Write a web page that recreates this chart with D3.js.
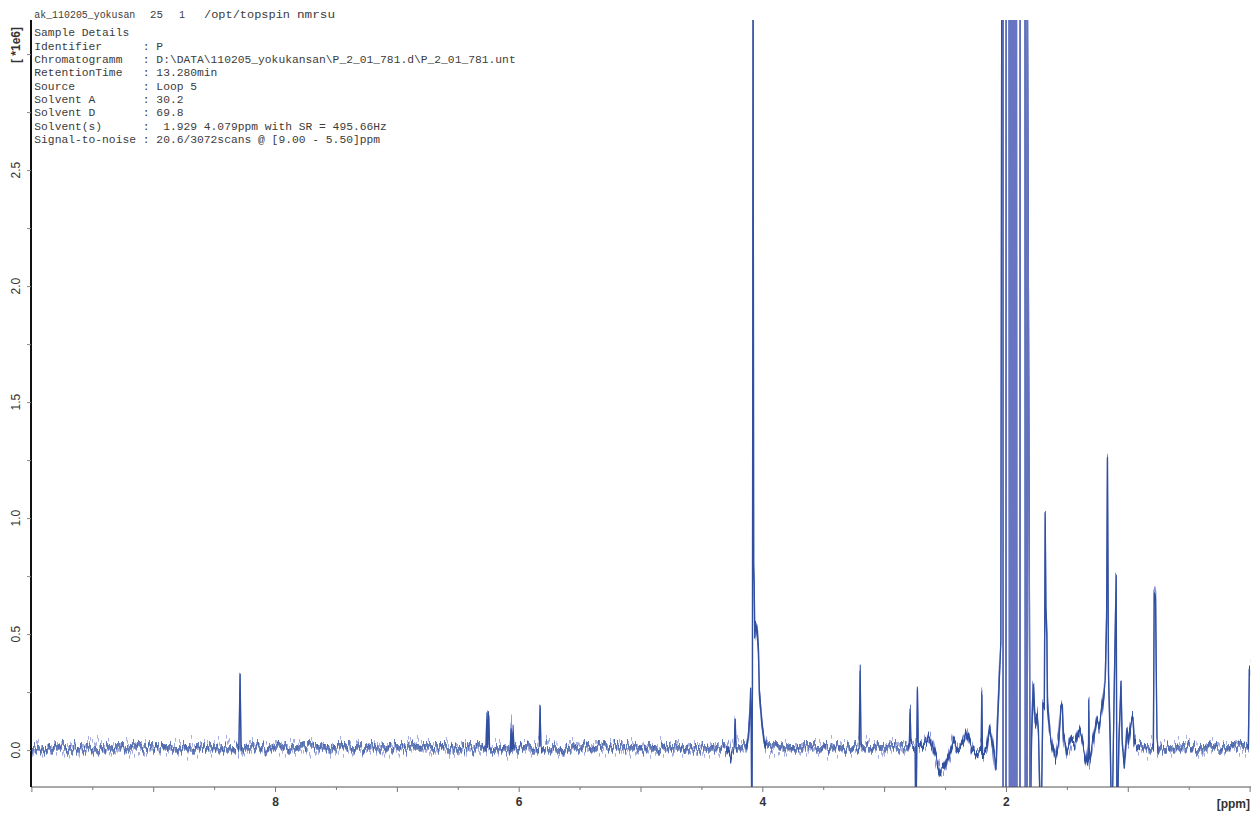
<!DOCTYPE html>
<html>
<head>
<meta charset="utf-8">
<script src="https://cdn.jsdelivr.net/npm/d3@7"></script>
<style>
  html, body { margin: 0; padding: 0; background: #ffffff; }
  svg { display: block; }
</style>
</head>
<body>
<svg id="chart" width="1251" height="813"></svg>
<script>
// 1H NMR trace vertices: [chemical shift (ppm), intensity (x1e6)], low field to high field.
// Values of 3.6 / -0.4 run off the plotted range and are clipped at the frame.
const lowField = [
  [10.000, 0.01],
  [8.297, 0.01], [8.287, 0.323], [8.279, 0.01],
  [6.268, 0.01], [6.260, 0.160], [6.254, 0.02], [6.246, 0.140], [6.239, 0.01],
  [6.070, 0.01], [6.062, 0.100], [6.056, 0.02], [6.047, 0.095], [6.040, 0.01],
  [5.832, 0.01], [5.824, 0.170], [5.817, 0.01],
  [4.300, 0.01], [4.262, -0.025], [4.250, 0.01],
  [4.231, 0.01], [4.223, 0.120], [4.216, 0.01]
];
const waterRegion = [
  [4.130, 0.01], [4.117, 0.05], [4.104, 0.13], [4.096, 0.245], [4.091, 0.12],
  [4.086, -0.40], [4.081, 0.30], [4.076, 3.60], [4.071, 0.80], [4.067, 0.724],
  [4.062, 0.50], [4.055, 0.55], [4.046, 0.53], [4.040, 0.50], [4.032, 0.43],
  [4.024, 0.245], [4.004, 0.116], [3.985, 0.04], [3.970, 0.01]
];
const midField = [
  [3.205, 0.01], [3.197, 0.336], [3.190, 0.01],
  [2.800, 0.01], [2.793, 0.02], [2.787, 0.164], [2.781, 0.03], [2.745, 0.02],
  [2.740, -0.40], [2.727, 0.247], [2.720, 0.03], [2.690, 0.02], [2.636, 0.056],
  [2.595, 0.00], [2.540, -0.093], [2.513, -0.086], [2.472, -0.03], [2.430, 0.043],
  [2.402, 0.014], [2.360, 0.03], [2.319, 0.079], [2.278, 0.014], [2.238, -0.007],
  [2.203, 0.00], [2.198, 0.247], [2.192, -0.01], [2.160, 0.00], [2.135, 0.095],
  [2.116, 0.043], [2.097, -0.03], [2.081, -0.079], [2.070, 0.116], [2.054, 0.33],
  [2.042, 0.47], [2.034, 3.60]
];
const solventRegion = [
  [2.024, 3.60], [2.023, -0.40], [2.000, -0.40], [1.998, 3.60],
  [1.974, 3.60], [1.971, -0.40], [1.968, -0.40], [1.965, 3.60], [1.962, 3.60],
  [1.959, -0.40], [1.956, -0.40], [1.953, 3.60], [1.950, 3.60], [1.947, -0.40],
  [1.944, -0.40], [1.941, 3.60], [1.938, 3.60], [1.935, -0.40], [1.932, -0.40],
  [1.929, 3.60], [1.926, 3.60], [1.923, -0.40], [1.920, -0.40], [1.917, 3.60],
  [1.914, 3.60], [1.911, -0.40], [1.908, -0.40],
  [1.885, -0.40], [1.883, 3.60], [1.843, 3.60], [1.841, -0.40],
  [1.828, -0.40], [1.826, 3.60], [1.801, -0.40]
];
const highField = [
  [1.790, 0.05], [1.776, 0.289], [1.760, 0.116], [1.747, 0.16], [1.733, 0.073],
  [1.713, -0.40], [1.697, 0.20], [1.685, 0.20], [1.678, 1.02], [1.672, 0.62],
  [1.664, 0.487], [1.659, 0.185], [1.643, 0.073], [1.623, 0.013], [1.596, -0.035],
  [1.569, 0.03], [1.549, 0.185], [1.538, 0.185], [1.528, 0.043], [1.500, -0.013],
  [1.459, 0.043], [1.432, 0.03], [1.405, 0.086], [1.377, 0.043], [1.350, -0.03],
  [1.331, -0.065], [1.322, 0.00], [1.320, 0.207], [1.316, -0.043], [1.283, 0.043],
  [1.254, 0.129], [1.233, 0.10], [1.206, 0.20], [1.186, 0.30], [1.174, 0.56],
  [1.167, 1.257], [1.158, 0.33], [1.144, 0.043], [1.131, -0.40], [1.118, 0.043],
  [1.095, 0.754], [1.089, -0.40], [1.073, 0.043], [1.056, 0.289], [1.046, 0.043],
  [1.029, -0.052], [1.007, 0.086], [0.994, 0.03], [0.974, 0.116], [0.958, 0.142],
  [0.947, 0.03], [0.930, 0.02], [0.900, 0.01],
  [0.790, 0.01], [0.783, 0.682], [0.772, 0.66], [0.767, 0.38], [0.760, 0.05], [0.752, 0.01],
  [0.010, 0.01], [0.002, 0.345], [-0.005, 0.345]
];

// Axis ticks and labels
const ppmTicks = d3.range(0, 21).map(i => 10 - i * 0.5);
const ppmLabels = [8, 6, 4, 2];
const intensityTicks = d3.range(0, 13).map(i => i * 0.25);
const intensityLabels = [0, 0.5, 1.0, 1.5, 2.0, 2.5];

// Acquisition header
const titleParts = [
  { text: "ak_110205_yokusan", x: 34.3, w: 101 },
  { text: "25", x: 150, w: 13 },
  { text: "1", x: 179, w: 6 },
  { text: "/opt/topspin", x: 204, w: 86 },
  { text: "nmrsu", x: 297, w: 38 }
];
const detailKeys = ["Sample Details", "Identifier", "Chromatogramm", "RetentionTime", "Source",
  "Solvent A", "Solvent D", "Solvent(s)", "Signal-to-noise"];
const detailValues = ["", ": P", ": D:\\DATA\\110205_yokukansan\\P_2_01_781.d\\P_2_01_781.unt",
  ": 13.280min", ": Loop 5", ": 30.2", ": 69.8", ":  1.929 4.079ppm with SR = 495.66Hz",
  ": 20.6/3072scans @ [9.00 - 5.50]ppm"];

const svg = d3.select("#chart");
const W = 1251, H = 813;
const plot = { left: 31.4, right: 1249.6, top: 20, bottom: 787 };

const x = d3.scaleLinear().domain([10, 0]).range([plot.left, plot.right]);
const y = d3.scaleLinear().domain([-0.159, 3.147]).range([plot.bottom, plot.top]);

const defs = svg.append("defs");
defs.append("clipPath").attr("id", "plotClip")
  .append("rect").attr("x", 31).attr("y", plot.top).attr("width", W - 31).attr("height", plot.bottom - plot.top);

// Acquisition-noise texture: columns are shifted vertically, then smeared vertically
function noiseFilter(id, seed, freq, amount, smear) {
  const f = defs.append("filter").attr("id", id)
    .attr("filterUnits", "userSpaceOnUse")
    .attr("x", 0).attr("y", 0).attr("width", W).attr("height", H)
    .attr("color-interpolation-filters", "sRGB");
  f.append("feTurbulence").attr("type", "fractalNoise")
    .attr("baseFrequency", freq + " 0.002").attr("numOctaves", 2).attr("seed", seed).attr("result", "n");
  const ct = f.append("feComponentTransfer").attr("in", "n").attr("result", "m");
  ct.append("feFuncR").attr("type", "linear").attr("slope", 0).attr("intercept", 0.5);
  ct.append("feFuncG").attr("type", "linear").attr("slope", 1.6).attr("intercept", -0.3);
  f.append("feDisplacementMap").attr("in", "SourceGraphic").attr("in2", "m")
    .attr("scale", amount).attr("xChannelSelector", "R").attr("yChannelSelector", "G").attr("result", "d");
  f.append("feMorphology").attr("in", "d").attr("operator", "dilate").attr("radius", "0 " + smear);
}
noiseFilter("noiseLight", 7, 0.8, 22, 1);
noiseFilter("noiseDark", 3, 0.55, 12, 1.5);

// Header text
const mono = "'Liberation Mono', 'DejaVu Sans Mono', monospace";
const header = svg.append("g").attr("fill", "#3c3c3c").style("font-family", mono);
header.selectAll("text.title").data(titleParts).join("text")
  .attr("class", "title")
  .attr("x", d => d.x).attr("y", 18)
  .attr("textLength", d => d.w).attr("lengthAdjust", "spacingAndGlyphs")
  .style("font-size", "11px")
  .text(d => d.text);
header.selectAll("text.key").data(detailKeys).join("text")
  .attr("class", "key")
  .attr("x", 34.3).attr("y", (d, i) => 36.2 + i * 13.38)
  .style("font-size", "11.3px")
  .text(d => d);
header.selectAll("text.val").data(detailValues).join("text")
  .attr("class", "val")
  .attr("x", 142.8).attr("y", (d, i) => 36.2 + i * 13.38)
  .style("font-size", "11.3px")
  .style("white-space", "pre")
  .text(d => d);

// Spectrum trace
const spectrum = [].concat(lowField, waterRegion, midField, solventRegion, highField);
const line = d3.line().x(d => x(d[0])).y(d => y(d[1]));
const plotG = svg.append("g").attr("clip-path", "url(#plotClip)");
plotG.append("path").datum(spectrum)
  .attr("d", line).attr("fill", "none")
  .attr("stroke", "#8b94d6").attr("stroke-width", 1.3)
  .attr("stroke-linejoin", "round")
  .attr("filter", "url(#noiseLight)");
plotG.append("path").datum(spectrum)
  .attr("d", line).attr("fill", "none")
  .attr("stroke", "#30509f").attr("stroke-width", 1.3)
  .attr("stroke-linejoin", "round")
  .attr("filter", "url(#noiseDark)");
// Off-scale solvent signal (1.93 ppm) is drawn in a lighter tone on top
plotG.append("path").datum(solventRegion)
  .attr("d", line).attr("fill", "none")
  .attr("stroke", "#6674c2").attr("stroke-width", 1.3);

// X axis (ppm, decreasing to the right)
const sans = "'Liberation Sans', Arial, sans-serif";
const xAxis = svg.append("g").attr("transform", `translate(0,${plot.bottom})`)
  .call(d3.axisBottom(x).tickValues(ppmTicks).tickSizeOuter(0)
    .tickFormat(d => ppmLabels.includes(d) ? d : ""));
xAxis.select(".domain").attr("d", `M31,0H${W}`).attr("stroke", "#555").attr("stroke-width", 1.2);
xAxis.selectAll(".tick line").attr("y2", d => Number.isInteger(d) ? 5 : 3).attr("stroke", "#777");
xAxis.selectAll(".tick text").attr("y", 10)
  .style("font-family", sans).style("font-size", "12px").style("font-weight", "bold").attr("fill", "#333");
svg.append("text").attr("x", 1250).attr("y", 808).attr("text-anchor", "end")
  .style("font-family", sans).style("font-size", "12px").style("font-weight", "bold").attr("fill", "#333")
  .text("[ppm]");

// Y axis (intensity x1e6), labels rotated
const yAxis = svg.append("g").attr("transform", `translate(31,0)`)
  .call(d3.axisLeft(y).tickValues(intensityTicks).tickSize(4).tickSizeOuter(0).tickFormat(""));
yAxis.select(".domain").attr("d", `M0,${plot.top}V${plot.bottom}`).attr("stroke", "#111").attr("stroke-width", 2);
yAxis.selectAll(".tick line").attr("stroke", "#888");
yAxis.selectAll("text.ylab").data(intensityLabels).join("text")
  .attr("class", "ylab")
  .attr("transform", d => `translate(-15,${y(d)}) rotate(-90)`)
  .attr("text-anchor", "middle").attr("dy", "0.35em")
  .style("font-family", sans).style("font-size", "12px").attr("fill", "#333")
  .text(d => d.toFixed(1));
svg.append("text")
  .attr("transform", "translate(16,45) rotate(-90)")
  .attr("text-anchor", "middle").attr("dy", "0.35em")
  .style("font-family", sans).style("font-size", "12px").style("font-weight", "bold").attr("fill", "#333")
  .text("[ *1e6]");
</script>
</body>
</html>
